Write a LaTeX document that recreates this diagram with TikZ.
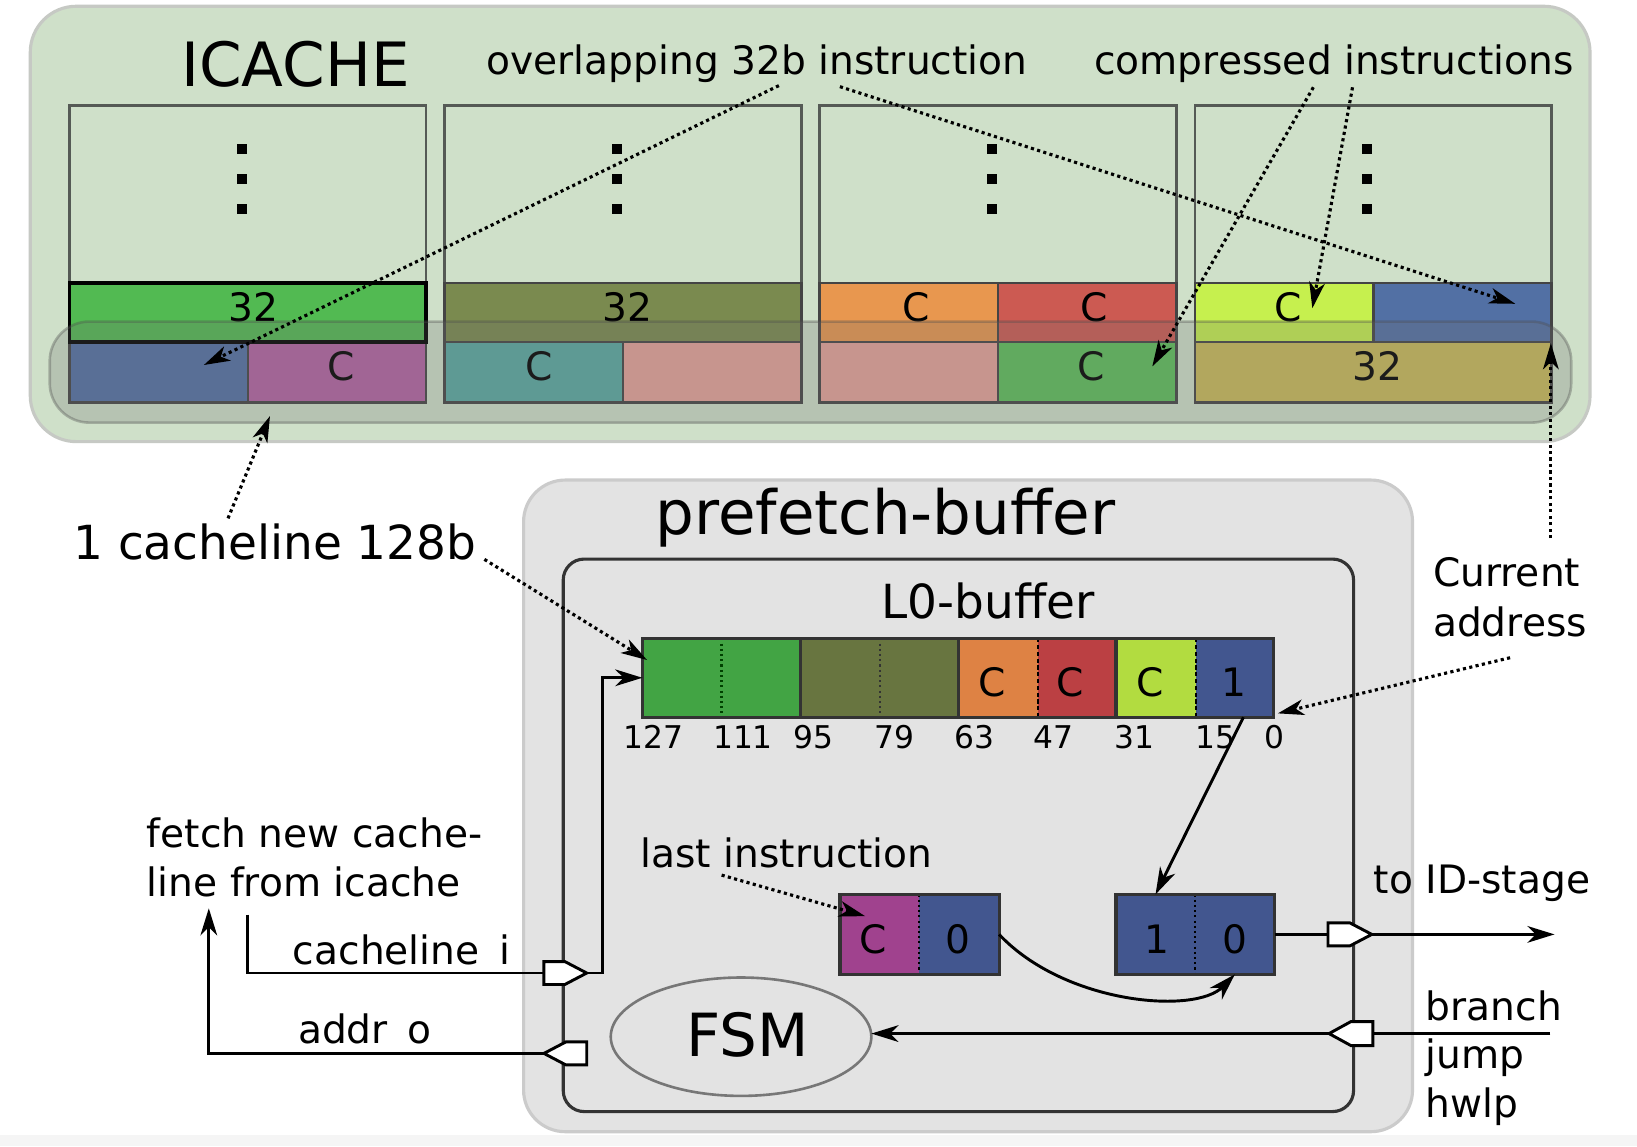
\documentclass[tikz,border=0pt]{standalone}
\usepackage{fontspec}
\setmainfont{DejaVu Sans}
\usetikzlibrary{arrows.meta,shapes.geometric}
\definecolor{icbg}{HTML}{CFE0C9}
\definecolor{icbd}{HTML}{C6C9C4}
\definecolor{pfbg}{HTML}{E3E3E3}
\definecolor{pfbd}{HTML}{CBCBCB}
\definecolor{colbd}{HTML}{555A55}
\definecolor{cellbd}{HTML}{444444}
\definecolor{cGreen}{HTML}{52BA52}
\definecolor{cOlive}{HTML}{7A8A4F}
\definecolor{cOrange}{HTML}{E8974F}
\definecolor{cRed}{HTML}{CC5A52}
\definecolor{cYG}{HTML}{C6F04E}
\definecolor{cBlue}{HTML}{5270A4}
\definecolor{cPurple}{HTML}{B362A3}
\definecolor{cTeal}{HTML}{59A9A1}
\definecolor{cPink}{HTML}{E6A39A}
\definecolor{cGreenB}{HTML}{5DBF5A}
\definecolor{cOY}{HTML}{C9BB59}
\definecolor{lGreen}{HTML}{42A444}
\definecolor{lOlive}{HTML}{687540}
\definecolor{lOrange}{HTML}{DE8244}
\definecolor{lRed}{HTML}{BB4043}
\definecolor{lYG}{HTML}{B2DC40}
\definecolor{lBlue}{HTML}{42568F}
\definecolor{lPurple}{HTML}{A0428E}
\definecolor{fsmbd}{HTML}{777777}
\definecolor{boxbd}{HTML}{333333}
\begin{document}
\begin{tikzpicture}[x=1pt,y=-1pt,
  every node/.style={inner sep=0pt,outer sep=0pt},
  txt/.style={font=\fontsize{37.5}{45}\selectfont,anchor=base},
  txtl/.style={font=\fontsize{37.5}{45}\selectfont,anchor=base west},
  bigtxt/.style={font=\fontsize{58.5}{70}\selectfont,anchor=base},
  midtxt/.style={font=\fontsize{45}{54}\selectfont,anchor=base},
  smalltxt/.style={font=\fontsize{30}{36}\selectfont,anchor=base},
  colbox/.style={anchor=north west,draw=colbd,line width=2.5pt,minimum width=341.6pt,minimum height=284.6pt},
  cellbox/.style={anchor=north west,draw=cellbd,line width=2.5pt},
  fullw/.style={minimum width=341.6pt},
  halfw/.style={minimum width=170.8pt},
  uprow/.style={minimum height=56.5pt},
  lorow/.style={minimum height=58.1pt},
  l0cell/.style={anchor=north west,minimum height=75.6pt},
  bitbox/.style={anchor=north west,minimum height=76.6pt},
  wire/.style={line width=2.8pt},
  tipw/.style={-{Stealth[length=26pt,width=16pt,inset=8pt]}},
  dotarrow/.style={line width=3pt,dash pattern=on 3pt off 3.2pt,-{Stealth[length=25pt,width=15pt,inset=7pt]}},
  pinshape/.style={fill=white,draw=black,line width=2.8pt,line join=miter},
  solidiv/.style={line width=3pt,draw=boxbd},
  dashdiv/.style={line width=2pt,draw=black,dash pattern=on 4pt off 2.5pt},
  dotdiv/.style={line width=2pt,dash pattern=on 2pt off 3pt}
]
\useasboundingbox (0,0) rectangle (1568,1098);
\fill[white] (0,0) rectangle (1568,1098);
\fill[black!4] (0,1087) rectangle (1568,1098);

% ---------------- ICACHE ----------------
\node[anchor=north west,minimum width=1494pt,minimum height=417pt,rounded corners=44pt,fill=icbg,draw=icbd,line width=3pt] (icache) at (29,6) {};
\node[bigtxt] (icachelbl) at (283,82.4) {ICACHE};
\node[txt] (ovl) at (725,71) {overlapping 32b instruction};
\node[txt] (cmp) at (1277.7,71) {compressed instructions};

\foreach \i/\x in {1/66.6,2/425.9,3/785.2,4/1144.5}{
  \node[colbox] (col\i) at (\x,101) {};
  \foreach \dy in {142.7,171.5,200}
    \fill (\x+160,\dy-5) rectangle (\x+170,\dy+5);
}

% column 1
\node[cellbox,halfw,lorow,fill=cBlue] (c1l) at (66.6,327.5) {};
\node[cellbox,halfw,lorow,fill=cPurple] (c1r) at (237.4,327.5) {};
\node[cellbox,fullw,uprow,fill=cGreen,draw=black,line width=3.5pt] (c1u) at (66.6,271) {};
% column 2
\node[cellbox,fullw,uprow,fill=cOlive] (c2u) at (425.9,271) {};
\node[cellbox,halfw,lorow,fill=cTeal] (c2l) at (425.9,327.5) {};
\node[cellbox,halfw,lorow,fill=cPink] (c2r) at (596.7,327.5) {};
% column 3
\node[cellbox,halfw,uprow,fill=cOrange] (c3ul) at (785.2,271) {};
\node[cellbox,halfw,uprow,fill=cRed] (c3ur) at (956,271) {};
\node[cellbox,halfw,lorow,fill=cPink] (c3ll) at (785.2,327.5) {};
\node[cellbox,halfw,lorow,fill=cGreenB] (c3lr) at (956,327.5) {};
% column 4
\node[cellbox,halfw,uprow,fill=cYG] (c4ul) at (1144.5,271) {};
\node[cellbox,halfw,uprow,fill=cBlue] (c4ur) at (1315.3,271) {};
\node[cellbox,fullw,lorow,fill=cOY] (c4l) at (1144.5,327.5) {};

\node[txt] (t1) at (243,308) {32};
\node[txt] (t2) at (326.6,364) {C};
\node[txt] (t3) at (601,308) {32};
\node[txt] (t4) at (516,364) {C};
\node[txt] (t5) at (877.8,308) {C};
\node[txt] (t6) at (1048.5,308) {C};
\node[txt] (t7) at (1045,364) {C};
\node[txt] (t8) at (1234,308) {C};
\node[txt] (t9) at (1319.6,364) {32};

% cacheline highlight
\node[anchor=north west,minimum width=1457.4pt,minimum height=96.8pt,rounded corners=38pt,fill=black!57,fill opacity=0.25,draw=black!70,draw opacity=0.35,line width=2.5pt] (cline) at (47.6,308) {};

% ---------------- prefetch buffer ----------------
\node[anchor=north west,minimum width=851.5pt,minimum height=624.2pt,rounded corners=40pt,fill=pfbg,draw=pfbd,line width=3pt] (pf) at (501.5,459.8) {};
\node[bigtxt] (pflbl) at (848,512.4) {prefetch-buffer};
\node[anchor=north west,minimum width=757pt,minimum height=529.2pt,rounded corners=20pt,draw=boxbd,line width=3pt] (inner) at (539.5,535.5) {};
\node[midtxt] (l0lbl) at (946.4,592.3) {L0-buffer};

% L0 buffer
\node[l0cell,fill=lGreen,minimum width=151.5pt] (l0g) at (615.3,611.4) {};
\node[l0cell,fill=lOlive,minimum width=151.6pt] (l0o) at (766.8,611.4) {};
\node[l0cell,fill=lOrange,minimum width=75.7pt] (l0c1) at (918.4,611.4) {};
\node[l0cell,fill=lRed,minimum width=74.8pt] (l0c2) at (994.1,611.4) {};
\node[l0cell,fill=lYG,minimum width=76.7pt] (l0c3) at (1068.9,611.4) {};
\node[l0cell,fill=lBlue,minimum width=74.4pt] (l0b) at (1145.6,611.4) {};
\draw[dotdiv,draw=green!25!black] (l0g.north) -- (l0g.south);
\draw[dotdiv,draw=black!80] (l0o.north) -- (l0o.south);
\draw[dashdiv] (l0c2.north west) -- (l0c2.south west);
\draw[dashdiv] (l0b.north west) -- (l0b.south west);
\draw[solidiv] (l0o.north west) -- (l0o.south west);
\draw[solidiv] (l0c1.north west) -- (l0c1.south west);
\draw[solidiv] (l0c3.north west) -- (l0c3.south west);
\draw[solidiv] (l0g.north west) rectangle (l0b.south east);
\node[txt] (l0t1) at (950,667) {C};
\node[txt] (l0t2) at (1025,667) {C};
\node[txt] (l0t3) at (1101.6,667) {C};
\node[txt] (l0t4) at (1182,667) {1};

\node[smalltxt] (b127) at (626,716.7) {127};
\node[smalltxt] (b111) at (711.7,716.7) {111};
\node[smalltxt] (b95) at (778.8,716.7) {95};
\node[smalltxt] (b79) at (857,716.7) {79};
\node[smalltxt] (b63) at (933,716.7) {63};
\node[smalltxt] (b47) at (1008.8,716.7) {47};
\node[smalltxt] (b31) at (1087,716.7) {31};
\node[smalltxt] (b15) at (1163.8,716.7) {15};
\node[smalltxt] (b0) at (1221,716.7) {0};

% last instruction register
\node[bitbox,fill=lPurple,minimum width=75.4pt] (liC) at (804.6,856.7) {};
\node[bitbox,fill=lBlue,minimum width=77pt] (li0) at (880,856.7) {};
\draw[dotdiv,draw=black] (li0.north west) -- (li0.south west);
\draw[solidiv] (liC.north west) rectangle (li0.south east);
\node[txt] (liCt) at (836.5,913) {C};
\node[txt] (li0t) at (918,913) {0};

% next instruction register
\node[bitbox,fill=lBlue,minimum width=75.6pt] (nx1) at (1069,856.7) {};
\node[bitbox,fill=lBlue,minimum width=76.4pt] (nx0) at (1144.6,856.7) {};
\draw[dotdiv,draw=black] (nx0.north west) -- (nx0.south west);
\draw[solidiv] (nx1.north west) rectangle (nx0.south east);
\node[txt] (nx1t) at (1107.7,913) {1};
\node[txt] (nx0t) at (1183,913) {0};

% FSM
\node[ellipse,draw=fsmbd,line width=2.5pt,minimum width=249.6pt,minimum height=113.4pt] (fsm) at (709.8,993) {};
\node[font=\fontsize{57}{68}\selectfont,anchor=base] (fsmlbl) at (716,1012) {FSM};

% ---------------- outer labels ----------------
\node[midtxt] (cl128) at (263.3,535.8) {1 cacheline 128b};
\node[txtl] (fetch1) at (140.8,812) {fetch new cache-};
\node[txtl] (fetch2) at (140.8,859) {line from icache};
\node[txtl] (clin) at (280.6,924.3) {cacheline\hspace{0.5em}i};
\node[txtl] (addro) at (285.5,999.4) {addr\hspace{0.5em}o};
\node[txtl] (lastin) at (613.6,830.8) {last instruction};
\node[txtl] (toid) at (1316,855.6) {to ID-stage};
\node[txtl] (br) at (1365.6,977) {branch};
\node[txtl] (jp) at (1365.6,1023.5) {jump};
\node[txtl] (hw) at (1365.6,1070) {hwlp};
\node[txtl] (cur1) at (1372.7,562) {Current};
\node[txtl] (cur2) at (1372.7,609.2) {address};

% ---------------- wires ----------------
\coordinate (clstart) at (237.5,876);
\coordinate (pAin) at (521,932);
\coordinate (pAout) at (562,932);
\coordinate (bend1) at (577,649.2);
\coordinate (pBout) at (521,1009);
\coordinate (fetchup) at (200,870);
\coordinate (pCin) at (1272,895);
\coordinate (pCout) at (1314,895);
\coordinate (idend) at (1489,895);
\coordinate (brstart) at (1485,990);
\coordinate (pDin) at (1315,990);
\coordinate (pDout) at (1273,990);
\coordinate (s15) at (1191,687);

\draw[wire] (clstart) |- (pAin);
\draw[wire,tipw] (pAout) -| (bend1) -- (l0g.west);
\draw[wire,tipw] (pBout) -| (fetchup);
\draw[wire] (nx0.east) -- (pCin);
\draw[wire,tipw] (pCout) -- (idend);
\draw[wire] (brstart) -- (pDin);
\draw[wire,tipw] (pDout) -- (pDout -| fsm.east);
\draw[wire,tipw] (s15) -- (nx1.north);
\draw[wire,tipw] (li0.east) .. controls (1020,962) and (1145,972) .. (nx0.south);

% pins
\draw[pinshape] (521,921) -- (541,921) -- (pAout) -- (541,943) -- (521,943) -- cycle;
\draw[pinshape] (pBout) -- (542,998) -- (562,998) -- (562,1020) -- (542,1020) -- cycle;
\draw[pinshape] (1272,884) -- (1293,884) -- (pCout) -- (1293,906) -- (1272,906) -- cycle;
\draw[pinshape] (pDout) -- (1294,978.5) -- (1315,978.5) -- (1315,1001.5) -- (1294,1001.5) -- cycle;

% ---------------- dotted annotation arrows ----------------
\coordinate (a1s) at (746,82);
\coordinate (a1e) at (195.3,349.6);
\coordinate (a2s) at (804.5,83);
\coordinate (a2e) at (1451.4,291);
\coordinate (a3s) at (1258,83.6);
\coordinate (a3e) at (1103.7,351);
\coordinate (a4s) at (1295.5,83.6);
\coordinate (a4e) at (1257,295.3);
\coordinate (a5s) at (1485.5,515.6);
\coordinate (a5e) at (1485.5,328.7);
\coordinate (a6s) at (218.4,496.5);
\coordinate (a6e) at (258.6,398.5);
\coordinate (a7s) at (464,535.8);
\coordinate (a7e) at (619.8,632.2);
\coordinate (a8s) at (1446.4,630);
\coordinate (a8e) at (1224,683.3);
\coordinate (a9s) at (691.2,838.2);
\coordinate (a9e) at (828.6,877.5);
\draw[dotarrow] (a1s) -- (a1e);
\draw[dotarrow] (a2s) -- (a2e);
\draw[dotarrow] (a3s) -- (a3e);
\draw[dotarrow] (a4s) -- (a4e);
\draw[dotarrow] (a5s) -- (a5e);
\draw[dotarrow] (a6s) -- (a6e);
\draw[dotarrow] (a7s) -- (a7e);
\draw[dotarrow] (a8s) -- (a8e);
\draw[dotarrow] (a9s) -- (a9e);
\end{tikzpicture}
\end{document}
